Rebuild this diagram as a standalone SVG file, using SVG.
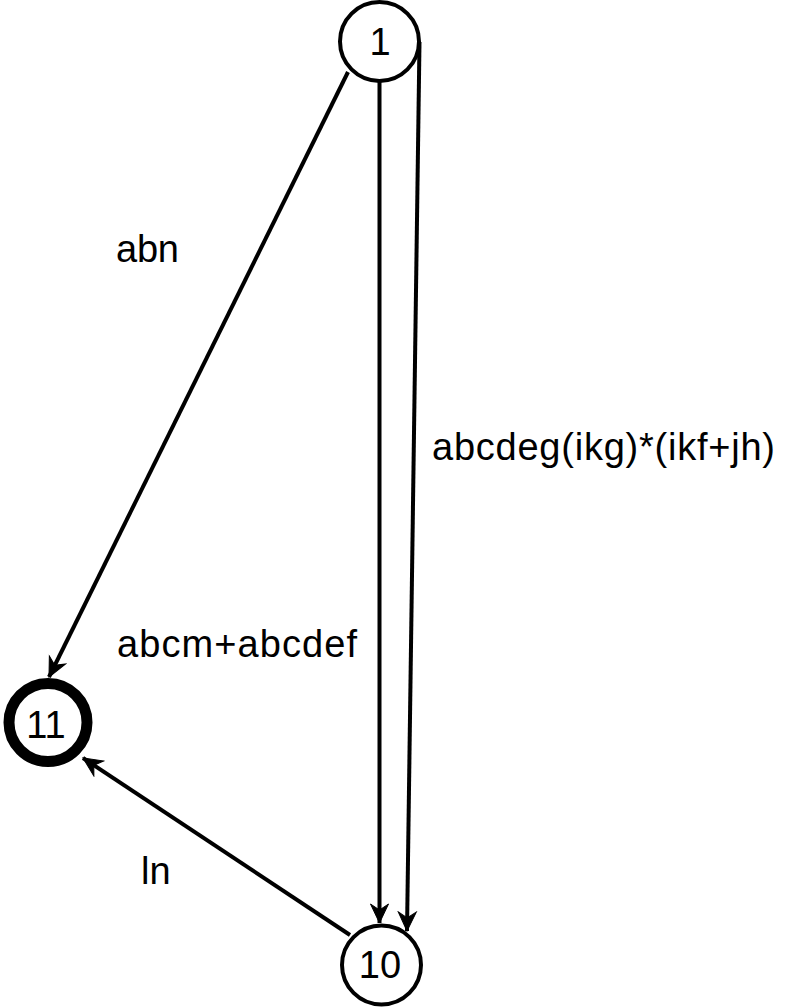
<svg xmlns="http://www.w3.org/2000/svg" width="791" height="1008" viewBox="0 0 791 1008">
  <style>
    .node { fill: #ffffff; stroke: #000000; stroke-width: 4; }
    .final { fill: #ffffff; stroke: #000000; stroke-width: 11; }
    .edge { fill: none; stroke: #000000; stroke-width: 4; }
    .label { font-family: "Liberation Sans", Arial, Helvetica, sans-serif; font-size: 38px; fill: #000000; }
    .nlabel { font-family: "Liberation Sans", Arial, Helvetica, sans-serif; font-size: 38px; fill: #000000; text-anchor: middle; }
  </style>
  <defs>
    <marker id="arrow" markerUnits="userSpaceOnUse" markerWidth="22" markerHeight="22" viewBox="-20 -10 22 20" refX="0" refY="0" orient="auto">
      <path d="M0,0 L-19,-9 L-13,0 L-19,9 Z" fill="#000000" stroke="#000000" stroke-width="1"/>
    </marker>
  </defs>
  <rect width="791" height="1008" fill="#ffffff"/>
  <g id="connectors">
    <line class="edge" x1="348" y1="72" x2="49" y2="677" marker-end="url(#arrow)"/>
    <line class="edge" x1="379.5" y1="82" x2="379.5" y2="923" marker-end="url(#arrow)"/>
    <line class="edge" x1="419.5" y1="42" x2="407" y2="931" marker-end="url(#arrow)"/>
    <line class="edge" x1="350" y1="935" x2="83" y2="758" marker-end="url(#arrow)"/>
  </g>
  <g id="edge-labels">
    <text class="label" x="116" y="262" textLength="63">abn</text>
    <text class="label" x="432" y="460" textLength="343">abcdeg(ikg)*(ikf+jh)</text>
    <text class="label" x="117" y="657" textLength="240">abcm+abcdef</text>
    <text class="label" x="141" y="884">ln</text>
  </g>
  <g id="node-1">
    <circle class="node" cx="379.5" cy="41.5" r="39.5"/>
    <text class="nlabel" x="380" y="55">1</text>
  </g>
  <g id="node-10">
    <circle class="node" cx="381.5" cy="965" r="39.5"/>
    <text class="nlabel" x="380" y="978">10</text>
  </g>
  <g id="node-11">
    <circle class="final" cx="48" cy="722.5" r="39"/>
    <text class="nlabel" x="46" y="738">11</text>
  </g>
</svg>
